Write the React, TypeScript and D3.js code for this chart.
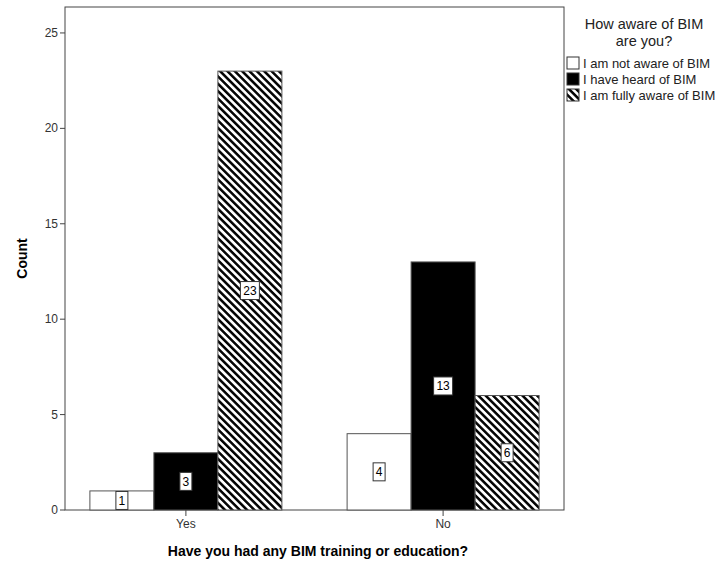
import React, { useEffect, useRef } from "react";
import * as d3 from "d3";

const groups = ["Yes", "No"];
const awareness = ["I am not aware of BIM", "I have heard of BIM", "I am fully aware of BIM"];
const yesCounts = [1, 3, 23];
const noCounts = [4, 13, 6];
const yTicks = [0, 5, 10, 15, 20, 25];

const fills = ["#ffffff", "#000000", "url(#hatch)"];

export default function App() {
  const ref = useRef<SVGSVGElement>(null);

  useEffect(() => {
    if (!ref.current) return;
    const svg = d3.select(ref.current);
    svg.selectAll("*").remove();

    const left = 65, right = 564, top = 7, bottom = 510;
    const font = "Liberation Sans, Arial, sans-serif";

    // hatch pattern
    const defs = svg.append("defs");
    const pat = defs.append("pattern")
      .attr("id", "hatch")
      .attr("patternUnits", "userSpaceOnUse")
      .attr("width", 5.2)
      .attr("height", 5.2)
      .attr("patternTransform", "rotate(-45)");
    pat.append("rect").attr("width", 5.2).attr("height", 5.2).attr("fill", "#fff");
    pat.append("line")
      .attr("x1", 1.3).attr("x2", 1.3).attr("y1", 0).attr("y2", 5.2)
      .attr("stroke", "#000").attr("stroke-width", 2.5);

    const y = d3.scaleLinear().domain([0, 26.36]).range([bottom, top]);
    const x = d3.scalePoint<string>().domain(groups).range([left, right]).padding(0.47);
    const sub = d3.scaleBand<string>().domain(awareness).range([-96, 96]).padding(0);

    // frame
    svg.append("rect")
      .attr("x", left).attr("y", top)
      .attr("width", right - left).attr("height", bottom - top)
      .attr("fill", "none").attr("stroke", "#444").attr("stroke-width", 1);

    // y axis ticks
    const yAxis = svg.append("g");
    yTicks.forEach(t => {
      yAxis.append("line")
        .attr("x1", left - 5).attr("x2", left)
        .attr("y1", y(t)).attr("y2", y(t))
        .attr("stroke", "#444");
      yAxis.append("text")
        .attr("x", left - 7).attr("y", y(t) + 4)
        .attr("text-anchor", "end")
        .attr("font-family", font).attr("font-size", 12).attr("fill", "#333")
        .text(t);
    });

    // bars
    const series = [yesCounts, noCounts];
    groups.forEach((g, gi) => {
      const cx = x(g)!;
      awareness.forEach((a, ai) => {
        const v = series[gi][ai];
        const bx = cx + sub(a)!;
        const bw = sub.bandwidth();
        svg.append("rect")
          .attr("x", bx).attr("y", y(v))
          .attr("width", bw).attr("height", y(0) - y(v))
          .attr("fill", fills[ai])
          .attr("stroke", "#555").attr("stroke-width", 1);
        const label = String(v);
        const lw = label.length > 1 ? 19 : 12;
        const ly = y(v / 2);
        svg.append("rect")
          .attr("x", bx + bw / 2 - lw / 2).attr("y", ly - 9)
          .attr("width", lw).attr("height", 18)
          .attr("fill", "#fff").attr("stroke", "#333").attr("stroke-width", 1);
        svg.append("text")
          .attr("x", bx + bw / 2).attr("y", ly + 4.5)
          .attr("text-anchor", "middle")
          .attr("font-family", font).attr("font-size", 12).attr("fill", "#000")
          .text(label);
      });
      svg.append("line")
        .attr("x1", cx).attr("x2", cx)
        .attr("y1", bottom).attr("y2", bottom + 6)
        .attr("stroke", "#444");
      svg.append("text")
        .attr("x", cx).attr("y", bottom + 18)
        .attr("text-anchor", "middle")
        .attr("font-family", font).attr("font-size", 12).attr("fill", "#333")
        .text(g);
    });

    // axis titles
    svg.append("text")
      .attr("transform", `translate(27,${(top + bottom) / 2}) rotate(-90)`)
      .attr("text-anchor", "middle")
      .attr("font-family", font).attr("font-size", 14).attr("font-weight", "bold")
      .text("Count");
    svg.append("text")
      .attr("x", 318).attr("y", 556)
      .attr("text-anchor", "middle")
      .attr("font-family", font).attr("font-size", 14).attr("font-weight", "bold")
      .text("Have you had any BIM training or education?");

    // legend
    const lg = svg.append("g");
    ["How aware of BIM", "are you?"].forEach((t, i) => {
      lg.append("text")
        .attr("x", 644).attr("y", 29 + i * 16.5)
        .attr("text-anchor", "middle")
        .attr("font-family", font).attr("font-size", 14.5).attr("fill", "#222")
        .text(t);
    });
    awareness.forEach((a, i) => {
      const ly = 63 + i * 16;
      lg.append("rect")
        .attr("x", 567).attr("y", ly - 6)
        .attr("width", 12).attr("height", 12)
        .attr("fill", fills[i]).attr("stroke", "#333");
      lg.append("text")
        .attr("x", 583).attr("y", ly + 5)
        .attr("font-family", font).attr("font-size", 13).attr("fill", "#222")
        .text(a);
    });
  }, []);

  return (
    <svg ref={ref} width={717} height={567} style={{ position: "absolute", left: 0, top: 0, background: "#fff" }} />
  );
}
